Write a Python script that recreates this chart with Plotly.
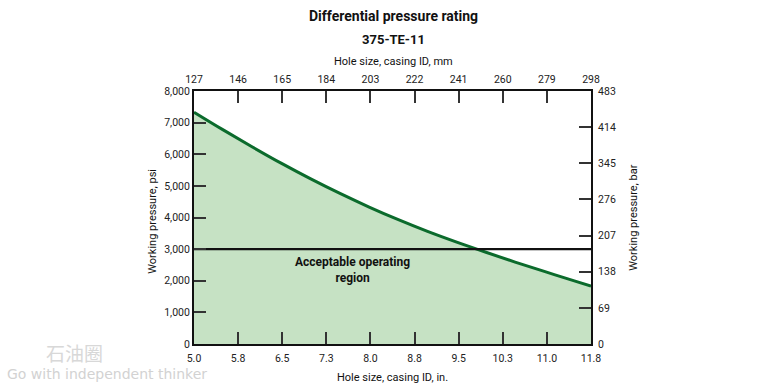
import plotly.graph_objects as go

# ---- data ----
hole_in = [5.0, 5.5, 6.0, 6.5, 7.0, 7.5, 8.0, 8.5, 9.0, 9.5, 10.0, 10.5, 11.0, 11.5, 11.8]
pressure_psi = [7330, 6770, 6230, 5710, 5220, 4760, 4330, 3930, 3560, 3220, 2900, 2590, 2295, 2005, 1830]
limit_psi = 3000

bottom_tick_labels = ["5.0", "5.8", "6.5", "7.3", "8.0", "8.8", "9.5", "10.3", "11.0", "11.8"]
top_tick_mm = [127, 146, 165, 184, 203, 222, 241, 260, 279, 298]
left_ticks_psi = [0, 1000, 2000, 3000, 4000, 5000, 6000, 7000, 8000]
right_ticks_bar = [0, 69, 138, 207, 276, 345, 414, 483]

FONT = "Roboto, sans-serif"

x_min, x_max = hole_in[0], hole_in[-1]
n = len(bottom_tick_labels)
bottom_tick_vals = [x_min + i * (x_max - x_min) / (n - 1) for i in range(n)]

fig = go.Figure()

fig.add_trace(go.Scatter(
    x=hole_in, y=pressure_psi, mode="lines", line=dict(color="#0b6b2c", width=3, shape="spline", smoothing=1.0),
    fill="tozeroy", fillcolor="#c6e2c4", showlegend=False, hoverinfo="skip"))

fig.add_trace(go.Scatter(
    x=[x_min, x_max], y=[limit_psi, limit_psi], mode="lines",
    line=dict(color="#111111", width=2.2), showlegend=False, hoverinfo="skip"))

# invisible traces to activate secondary axes
fig.add_trace(go.Scatter(x=[top_tick_mm[0]], y=[0], xaxis="x2", yaxis="y", mode="markers",
                         marker=dict(opacity=0), showlegend=False, hoverinfo="skip"))
fig.add_trace(go.Scatter(x=[x_min], y=[0], xaxis="x", yaxis="y2", mode="markers",
                         marker=dict(opacity=0), showlegend=False, hoverinfo="skip"))

axis_common = dict(showline=True, linecolor="#111111", linewidth=2, ticks="inside", ticklen=12,
                   tickwidth=2, tickcolor="#333333", showgrid=False, zeroline=False, automargin=False,
                   tickfont=dict(family=FONT, size=10.5, color="#222222"))

fig.update_layout(
    width=775, height=388,
    margin=dict(l=194, r=184, t=91, b=44),
    paper_bgcolor="white", plot_bgcolor="white",
    font=dict(family=FONT, color="#222222"),
    xaxis=dict(range=[x_min, x_max], tickvals=bottom_tick_vals, ticktext=bottom_tick_labels,
               ticklabelstandoff=3, **axis_common),
    xaxis2=dict(range=[top_tick_mm[0], top_tick_mm[-1]], tickvals=top_tick_mm, overlaying="x", side="top",
                ticklabelstandoff=2, **axis_common),
    yaxis=dict(range=[0, 8000], tickvals=left_ticks_psi, tickformat=",d", **axis_common),
    yaxis2=dict(range=[0, right_ticks_bar[-1]], tickvals=right_ticks_bar, overlaying="y", side="right",
                ticklabelstandoff=3, **axis_common),
)

H = 253.5  # plot height px
W = 397.0  # plot width px


def px(xp):
    return (xp - 194) / W


def py(yp):
    return (344.5 - yp) / H


def label(text, x, y, size, bold=False, angle=0, color="#111111", family=FONT, anchor="center"):
    fig.add_annotation(x=px(x), y=py(y), xref="paper", yref="paper", showarrow=False,
                       text=f"<b>{text}</b>" if bold else text, textangle=angle,
                       xanchor=anchor, yanchor="middle",
                       font=dict(family=family, size=size, color=color))


label("Differential pressure rating", 393, 16, 14, bold=True)
label("375-TE-11", 393, 39, 13, bold=True)
label("Hole size, casing ID, mm", 393, 61, 11)
label("Hole size, casing ID, in.", 392, 378, 11)
label("Working pressure, psi", 153, 222, 11, angle=-90)
label("Working pressure, bar", 634, 218, 11, angle=-90)

fig.add_annotation(x=7.71, y=2330, xref="x", yref="y", showarrow=False,
                   text="<b>Acceptable operating<br>region</b>",
                   font=dict(family=FONT, size=12, color="#111111"), align="center")

# watermark
label("石油圈", 44, 353, 19, color="#d8d8d8", family="Noto Sans CJK SC", anchor="left")
label("Go with independent thinker", 5, 375, 14, color="#d2d2d2", family="DejaVu Sans", anchor="left")

fig.write_html("out.html", config={"displayModeBar": False},
               post_script="document.body.style.margin='0px';document.body.style.padding='0px';")
